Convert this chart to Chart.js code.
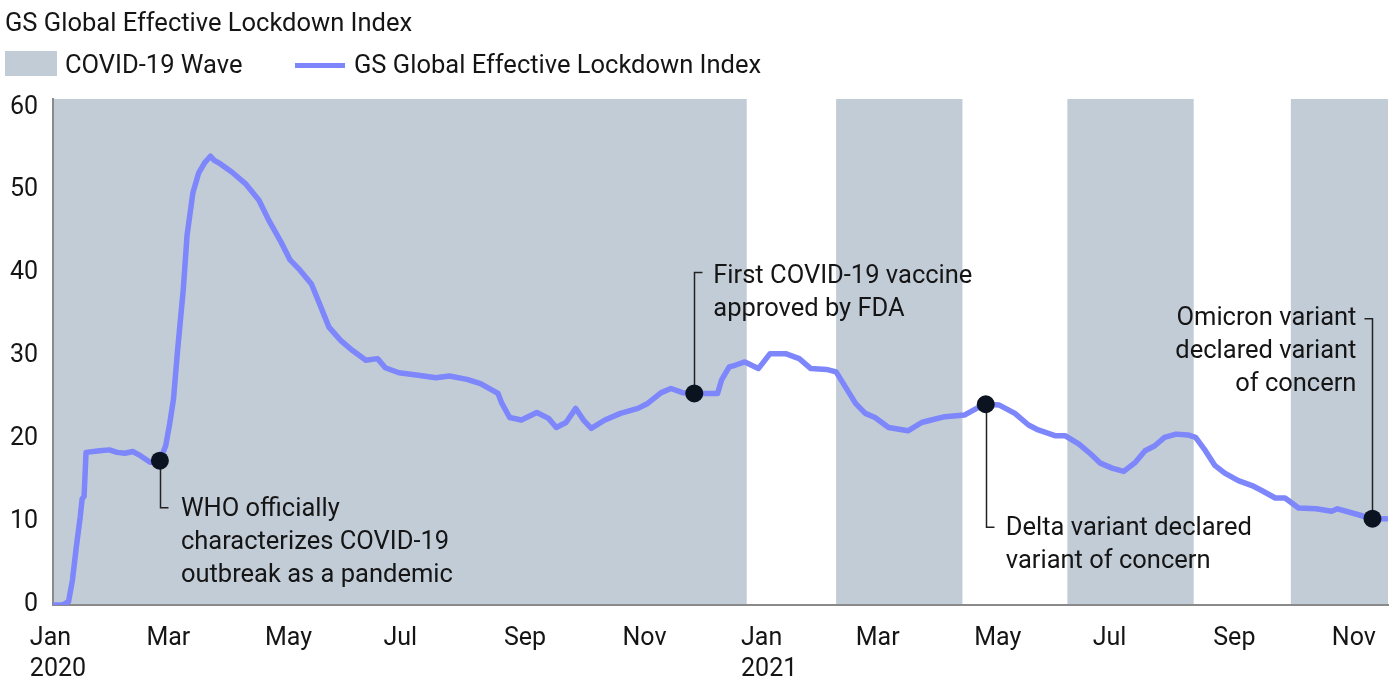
<!DOCTYPE html>
<html>
<head>
<meta charset="utf-8">
<script src="https://cdn.jsdelivr.net/npm/chart.js@4/dist/chart.umd.min.js"></script>
<style>
  body { margin: 0; background: #fff; font-family: Roboto, sans-serif; color: #151515; }
  #quadro { position: relative; width: 1392px; height: 679px; overflow: hidden; }
  #grafico { position: absolute; left: 0; top: 0; }
  .titulo { position: absolute; left: 5px; top: 6px; font-size: 25.5px; line-height: 32px; white-space: nowrap; }
  .legenda { position: absolute; top: 48px; height: 32px; line-height: 32px; font-size: 25.5px; white-space: nowrap; }
  .caixa { position: absolute; left: 5px; top: 51px; width: 52px; height: 25px; background: #c2ccd7; }
  .traco { position: absolute; left: 295px; top: 63px; width: 50px; height: 5px; background: #7d86fb; }
</style>
</head>
<body>
<div id="quadro">
  <canvas id="grafico" width="1392" height="679"></canvas>
  <div class="titulo">GS Global Effective Lockdown Index</div>
  <div class="caixa"></div>
  <div class="legenda" style="left:65px">COVID-19 Wave</div>
  <div class="traco"></div>
  <div class="legenda" style="left:354px">GS Global Effective Lockdown Index</div>
</div>
<script>
// dados
const lockdownDates = [
  '2020-01-15','2020-01-21','2020-01-24','2020-01-26','2020-01-28','2020-01-30','2020-01-31','2020-02-01','2020-02-02','2020-02-09',
  '2020-02-14','2020-02-18','2020-02-22','2020-02-26','2020-03-01','2020-03-06','2020-03-09','2020-03-11','2020-03-14','2020-03-16',
  '2020-03-18','2020-03-20','2020-03-23','2020-03-25','2020-03-28','2020-03-31','2020-04-03','2020-04-06','2020-04-08','2020-04-11',
  '2020-04-17','2020-04-24','2020-05-01','2020-05-06','2020-05-12','2020-05-17','2020-05-22','2020-05-28','2020-06-01','2020-06-06',
  '2020-06-12','2020-06-18','2020-06-25','2020-07-01','2020-07-05','2020-07-12','2020-07-22','2020-07-31','2020-08-07','2020-08-16',
  '2020-08-23','2020-09-01','2020-09-03','2020-09-07','2020-09-13','2020-09-21','2020-09-27','2020-10-01','2020-10-06','2020-10-11',
  '2020-10-15','2020-10-19','2020-10-26','2020-11-03','2020-11-12','2020-11-17','2020-11-24','2020-11-29','2020-12-05','2020-12-11',
  '2020-12-17','2020-12-23','2020-12-25','2020-12-29','2021-01-01','2021-01-06','2021-01-13','2021-01-19','2021-01-27','2021-02-03',
  '2021-02-09','2021-02-17','2021-02-22','2021-02-27','2021-03-04','2021-03-09','2021-03-14','2021-03-21','2021-03-31','2021-04-07',
  '2021-04-12','2021-04-19','2021-04-29','2021-05-06','2021-05-10','2021-05-17','2021-05-25','2021-06-01','2021-06-06','2021-06-15',
  '2021-06-20','2021-06-27','2021-07-03','2021-07-08','2021-07-14','2021-07-20','2021-07-26','2021-07-31','2021-08-05','2021-08-10',
  '2021-08-16','2021-08-22','2021-08-26','2021-08-31','2021-09-05','2021-09-10','2021-09-17','2021-09-24','2021-09-29','2021-10-06',
  '2021-10-11','2021-10-18','2021-10-27','2021-11-04','2021-11-07','2021-11-16','2021-11-25','2021-12-02'
];
const lockdownValues = [
  0, 0, 0.4, 3, 7, 10.6, 12.8, 13.1, 18.4, 18.6,
  18.7, 18.4, 18.3, 18.5, 18, 17.2, 17.2, 17.4, 19.2, 21.8,
  24.8, 30.4, 37.9, 44.6, 49.7, 52.1, 53.3, 54.1, 53.6, 53.2,
  52.2, 50.8, 48.8, 46.4, 43.9, 41.6, 40.4, 38.7, 36.4, 33.5,
  31.9, 30.7, 29.5, 29.7, 28.6, 28, 27.7, 27.4, 27.6, 27.2,
  26.7, 25.5, 24.3, 22.6, 22.3, 23.2, 22.5, 21.4, 22, 23.7,
  22.3, 21.3, 22.3, 23.1, 23.7, 24.3, 25.6, 26.1, 25.6, 25.5,
  25.5, 25.5, 27.1, 28.7, 28.9, 29.3, 28.5, 30.3, 30.3, 29.7,
  28.5, 28.4, 28.1, 26.2, 24.3, 23.1, 22.6, 21.4, 21, 22,
  22.3, 22.7, 22.9, 23.8, 24.2, 24.1, 23.1, 21.7, 21.1, 20.4,
  20.4, 19.4, 18.2, 17.1, 16.5, 16.1, 17.2, 18.6, 19.2, 20.2,
  20.6, 20.5, 20.2, 18.6, 16.8, 15.9, 15, 14.4, 13.8, 12.9,
  12.9, 11.7, 11.6, 11.3, 11.6, 11, 10.4, 10.4
];

const waveStarts = ['2020-01-15', '2021-02-22', '2021-06-21', '2021-10-14'];
const waveEnds = ['2021-01-07', '2021-04-28', '2021-08-25', '2021-12-03'];

const eventDates = ['2020-03-11', '2020-12-11', '2021-05-10', '2021-11-25'];
const eventValues = [17.4, 25.5, 24.2, 10.4];
const eventLabels = [
  ['WHO officially', 'characterizes COVID-19', 'outbreak as a pandemic'],
  ['First COVID-19 vaccine', 'approved by FDA'],
  ['Delta variant declared', 'variant of concern'],
  ['Omicron variant', 'declared variant', 'of concern']
];

const tickDates = ['2020-01-01','2020-03-01','2020-05-01','2020-07-01','2020-09-01','2020-11-01',
                   '2021-01-01','2021-03-01','2021-05-01','2021-07-01','2021-09-01','2021-11-01'];
const tickLabels = [['Jan','2020'],'Mar','May','Jul','Sep','Nov',['Jan','2021'],'Mar','May','Jul','Sep','Nov'];
const yTicks = [0, 10, 20, 30, 40, 50, 60];

const inicioEixo = '2020-01-16';
const fimEixo = '2021-12-03';

// estilos
const corLinha = '#7d86fb';
const corOnda = '#c2ccd7';
const corTexto = '#151515';
const corPonto = '#0b1220';
const fonte = 'Roboto, sans-serif';

// posicao das anotacoes em pixels, relativa ao ponto
const layoutAnotacoes = [
  { dir: 1,  haste: 47,  lado: 1,  dx: 21,  dy: 49 },
  { dir: -1, haste: 121, lado: 1,  dx: 19,  dy: -117 },
  { dir: 1,  haste: 123, lado: 1,  dx: 20,  dy: 124 },
  { dir: -1, haste: 200, lado: -1, dx: -16, dy: -200 }
];

const paraDia = d => (Date.parse(d) - Date.parse('2020-01-01')) / 86400000;

const pluginOndas = {
  id: 'ondas',
  beforeDraw(chart) {
    const { ctx, chartArea, scales: { x } } = chart;
    ctx.save();
    ctx.fillStyle = corOnda;
    waveStarts.forEach((ini, i) => {
      const x1 = Math.max(x.getPixelForValue(paraDia(ini)), chartArea.left);
      const x2 = Math.min(x.getPixelForValue(paraDia(waveEnds[i])), chartArea.right);
      ctx.fillRect(x1, chartArea.top, x2 - x1, chartArea.bottom - chartArea.top);
    });
    ctx.restore();
  }
};

const pluginAnotacoes = {
  id: 'anotacoes',
  beforeDatasetsDraw(chart) {
    const { ctx, scales: { x, y } } = chart;
    ctx.save();
    ctx.strokeStyle = '#222';
    ctx.lineWidth = 1.5;
    eventDates.forEach((d, i) => {
      const a = layoutAnotacoes[i];
      const px = Math.round(x.getPixelForValue(paraDia(d))) + 0.5;
      const py = y.getPixelForValue(eventValues[i]);
      const fim = py + a.dir * a.haste;
      ctx.beginPath();
      ctx.moveTo(px, py);
      ctx.lineTo(px, fim);
      ctx.lineTo(px + a.lado * 8, fim);
      ctx.stroke();
    });
    ctx.restore();
  },
  afterDatasetsDraw(chart) {
    const { ctx, scales: { x, y } } = chart;
    ctx.save();
    ctx.fillStyle = corTexto;
    ctx.font = '25.5px ' + fonte;
    ctx.textBaseline = 'middle';
    eventDates.forEach((d, i) => {
      const a = layoutAnotacoes[i];
      const px = x.getPixelForValue(paraDia(d));
      const py = y.getPixelForValue(eventValues[i]);
      ctx.textAlign = a.lado > 0 ? 'left' : 'right';
      eventLabels[i].forEach((linha, j) => {
        ctx.fillText(linha, px + a.dx, py + a.dy + j * 33);
      });
    });
    ctx.restore();
  }
};

new Chart(document.getElementById('grafico'), {
  type: 'line',
  data: {
    datasets: [{
      type: 'scatter',
      label: 'Eventos',
      data: eventDates.map((d, i) => ({ x: paraDia(d), y: eventValues[i] })),
      pointRadius: 9,
      pointBackgroundColor: corPonto,
      pointBorderWidth: 0,
      order: 0
    }, {
      label: 'GS Global Effective Lockdown Index',
      data: lockdownDates.map((d, i) => ({ x: paraDia(d), y: lockdownValues[i] })),
      borderColor: corLinha,
      borderWidth: 5.5,
      borderJoinStyle: 'round',
      borderCapStyle: 'round',
      pointRadius: 0,
      tension: 0,
      order: 1
    }]
  },
  options: {
    responsive: false,
    animation: false,
    layout: { autoPadding: false, padding: { top: 99, right: 4, left: 0, bottom: 0 } },
    plugins: {
      legend: { display: false },
      tooltip: { enabled: false }
    },
    scales: {
      x: {
        type: 'linear',
        min: paraDia(inicioEixo),
        max: paraDia(fimEixo),
        grid: { display: false, drawTicks: false },
        border: { display: true, color: '#8a8a8a', width: 2 },
        afterBuildTicks: s => { s.ticks = tickDates.map(d => ({ value: paraDia(d) })); },
        afterFit: s => { s.height = 74; s.paddingRight = 0; s.paddingLeft = 0; },
        ticks: {
          autoSkip: false,
          maxRotation: 0,
          align: 'start',
          labelOffset: 6,
          padding: 18,
          color: corTexto,
          font: { family: fonte, size: 25, lineHeight: 1.25 },
          callback: (v, i) => tickLabels[i]
        }
      },
      y: {
        min: 0,
        max: 61,
        grid: { display: false, drawTicks: false },
        border: { display: true, color: '#8a8a8a', width: 2 },
        afterBuildTicks: s => { s.ticks = yTicks.map(v => ({ value: v })); },
        afterFit: s => { s.width = 53; },
        ticks: {
          padding: 15,
          color: corTexto,
          font: { family: fonte, size: 25 }
        }
      }
    }
  },
  plugins: [pluginOndas, pluginAnotacoes]
});
</script>
</body>
</html>
